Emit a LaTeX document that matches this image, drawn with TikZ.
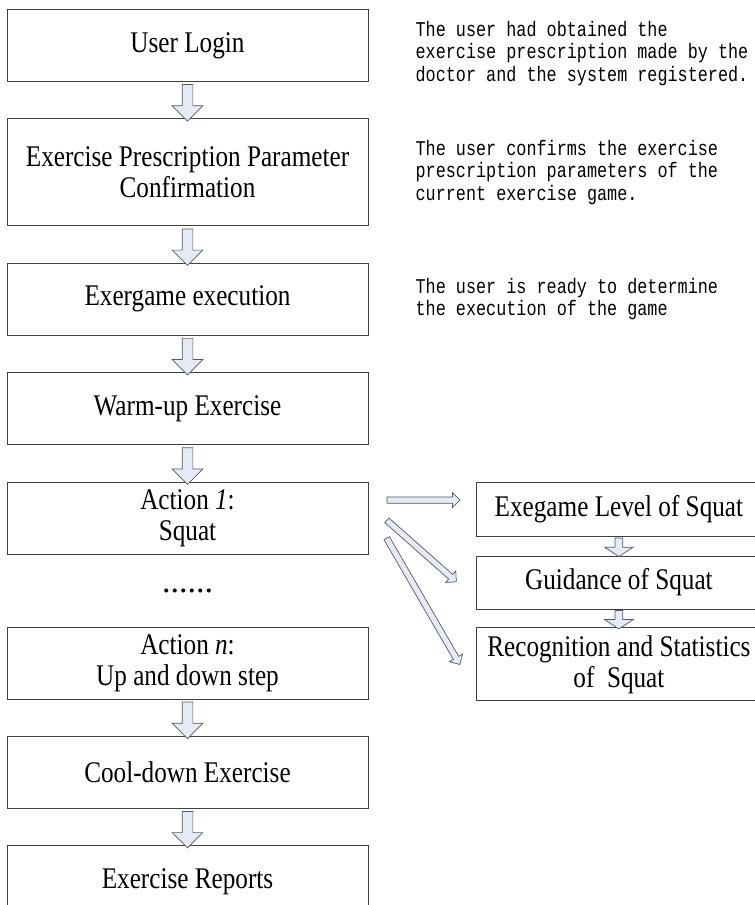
\documentclass[tikz,border=0pt]{standalone}
\usepackage{fontspec}
\setmainfont{Liberation Serif}[FakeStretch=0.84]
\newfontfamily\notefont{Liberation Mono}[FakeStretch=0.8]
\newfontfamily\dotsfont{Liberation Serif}
\usetikzlibrary{shapes.arrows, positioning, calc}
\definecolor{arrowfill}{RGB}{228,235,247}

\begin{document}
\begin{tikzpicture}[x=1pt, y=1pt, node distance=36.5pt,
                    box/.style={rectangle, draw=black!75, line width=0.9pt, minimum width=361pt,
                                align=center, font=\fontsize{30}{31}\selectfont},
                    sidebox/.style={box, minimum width=284pt},
                    note/.style={align=left, inner sep=0pt, font=\notefont\fontsize{21}{22.5}\selectfont},
                    fat/.style={single arrow, draw=black!65, fill=arrowfill, line width=0.7pt,
                                sloped, allow upside down, inner sep=0pt, inner ysep=#1},
                    downarrow/.style={fat=5pt, single arrow head extend=10pt,
                                      single arrow tip angle=90, minimum height=36.5pt},
                    smallarrow/.style={fat=3.5pt, single arrow head extend=10.5pt,
                                       single arrow tip angle=114, minimum height=18.5pt},
                    sidearrow/.style={fat=2.75pt, single arrow head extend=4.5pt,
                                      single arrow tip angle=90, minimum height=#1}]

\useasboundingbox (0,0) rectangle (755,-905);

% Nodes
\node (login) [box, minimum height=72pt, anchor=north] at (187.5,-9) {User Login};
\node (prescr) [box, minimum height=107pt, below=of login] {Exercise Prescription Parameter\\Confirmation};
\node (exergame) [box, minimum height=72pt, below=of prescr] {Exergame execution};
\node (warmup) [box, minimum height=72pt, below=of exergame] {Warm-up Exercise};
\node (action1) [box, minimum height=72pt, below=of warmup] {Action \textit{1}:\\Squat};
\node (actionn) [box, minimum height=72pt, below=72pt of action1] {Action \textit{n}:\\Up and down step};
\node (cooldown) [box, minimum height=72pt, below=of actionn] {Cool-down Exercise};
\node (reports) [box, minimum height=72pt, below=of cooldown] {Exercise Reports};
\node (dots) at ($(action1.south)!0.5!(actionn.north)$) [font=\dotsfont\fontsize{34}{34}\selectfont] {......};

\node (level) [sidebox, minimum height=54pt, right=108pt of action1.north east, anchor=north west] {Exegame Level of Squat};
\node (guidance) [sidebox, minimum height=53pt, below=19pt of level] {Guidance of Squat};
\node (recog) [sidebox, minimum height=73pt, below=18pt of guidance] {Recognition and Statistics\\of\ \ Squat};

\node (note1) [note, right=47pt of login, yshift=-8pt] {The user had obtained the\\exercise prescription made by the\\doctor and the system registered.};
\node (note2) [note, right=47pt of prescr] {The user confirms the exercise\\prescription parameters of the\\current exercise game.};
\node (note3) [note, right=47pt of exergame] {The user is ready to determine\\the execution of the game};

% Edges
\path (login.south) -- node[downarrow] {} (prescr.north);
\path (prescr.south) -- node[downarrow] {} (exergame.north);
\path (exergame.south) -- node[downarrow] {} (warmup.north);
\path (warmup.south) -- node[downarrow] {} (action1.north);
\path (actionn.south) -- node[downarrow] {} (cooldown.north);
\path (cooldown.south) -- node[downarrow] {} (reports.north);

\path (level.south) -- node[smallarrow] {} (guidance.north);
\path (guidance.south) -- node[smallarrow] {} (recog.north);

\path ([shift={(17pt,18pt)}]action1.east) -- node[sidearrow=73pt] {} ([shift={(-18pt,9pt)}]level.west);
\path ([shift={(17pt,-1pt)}]action1.east) -- node[sidearrow=92.8pt] {} ([shift={(-21pt,1.5pt)}]guidance.west);
\path ([shift={(17pt,-18pt)}]action1.east) -- node[sidearrow=146pt] {} ([shift={(-17pt,0.5pt)}]recog.west);

\end{tikzpicture}
\end{document}
